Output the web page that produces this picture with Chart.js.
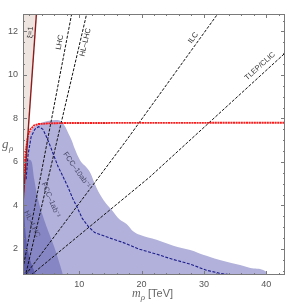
<!DOCTYPE html>
<html><head><meta charset="utf-8">
<script src="https://cdn.jsdelivr.net/npm/chart.js@4/dist/chart.umd.min.js"></script>
<style>html,body{margin:0;padding:0;background:#fff}canvas{display:block}</style>
</head><body>
<canvas id="c" width="288" height="302"></canvas>
<script>
// ---- data (m_rho in TeV, g_rho) ----
const xTicks = [10, 20, 30, 40];
const yTicks = [2, 4, 6, 8, 10, 12];

const xiM = [1.0, 3.15];
const xiG = [4.07, 12.8];

const redM = [1.0, 1.1, 1.25, 1.5, 1.8, 2.2, 2.8, 3.5, 5.0, 8.0, 43.0];
const redG = [4.5, 5.2, 5.9, 6.6, 7.2, 7.5, 7.68, 7.74, 7.77, 7.79, 7.8];

const lhcM = [1.0, 8.8];
const lhcG = [1.1, 12.8];
const hlM = [1.5, 11.2];
const hlG = [0.9, 12.8];
const ilcM = [1.4, 17.6, 32.2];
const ilcG = [0.8, 7.0, 12.8];
const tlepM = [2.3, 21.3, 43.0];
const tlepG = [0.8, 5.3, 11.0];

const fcc10M = [1.5, 1.8, 2.3, 2.9, 3.5, 4.2, 5.0, 5.8, 6.6, 7.2, 7.7, 8.2, 9.0, 9.7, 10.5, 11.5, 12.5, 14.9, 17.0, 19.7, 22.5, 25.0, 27.8, 30.4, 32.5, 34.5];
const fcc10G = [5.2, 6.3, 7.15, 7.5, 7.62, 7.5, 7.0, 6.4, 5.8, 5.45, 5.15, 4.85, 4.3, 3.9, 3.4, 3.02, 2.75, 2.5, 2.3, 1.98, 1.75, 1.52, 1.3, 1.02, 0.88, 0.8];

const lightM = [1.0, 1.3, 1.7, 2.2, 3.0, 4.0, 5.0, 6.3, 7.2, 7.8, 8.3, 8.8, 9.3, 10.1, 11.7, 12.8, 13.9, 15.2, 16.5, 17.6, 18.7, 19.7, 22.4, 25.1, 27.8, 30.4, 33.0, 35.8, 38.0, 40.0, 40.1];
const lightG = [4.5, 5.8, 6.8, 7.35, 7.65, 7.8, 7.88, 7.93, 7.85, 7.6, 7.3, 7.0, 6.6, 6.1, 5.55, 4.8, 4.25, 3.8, 3.35, 3.15, 2.8, 2.65, 2.42, 2.15, 1.95, 1.68, 1.45, 1.26, 1.1, 0.95, 0.8];

const midM = [1.0, 1.5, 2.0, 2.4, 2.8, 3.4, 4.2, 5.0, 6.0, 7.0, 7.4];
const midG = [5.0, 6.0, 6.1, 6.0, 5.2, 4.3, 3.5, 2.85, 2.1, 1.2, 0.8];

const darkM = [1.0, 1.15, 1.3, 1.5, 1.8, 2.3, 2.7, 3.1];
const darkG = [5.8, 4.2, 3.2, 2.5, 1.9, 1.35, 1.05, 0.8];

// labels: text, m, g, angle (deg)
const lblText = ['ξ=1', 'LHC', 'HL–LHC', 'ILC', 'TLEP/CLIC', 'FCC–10ab⁻¹', 'FCC–1ab⁻¹', 'HL–LHC'];
const lblM = [2.2, 6.9, 11.0, 28.3, 39.0, 9.6, 5.45, 2.45];
const lblG = [11.95, 11.5, 11.5, 11.7, 10.4, 5.63, 4.25, 3.14];
const lblA = [-86, -79, -77, -54, -42, 55, 67, 64];

const pts = (xs, ys) => xs.map((x, i) => ({x: x, y: ys[i]}));

function lineDs(xs, ys, color, width, dash) {
  return {data: pts(xs, ys), borderColor: color, borderWidth: width, borderDash: dash || [],
    pointRadius: 0, fill: false, tension: 0};
}
function areaDs(xs, ys, color, fillTo) {
  return {data: pts(xs, ys), borderColor: 'rgba(0,0,0,0)', borderWidth: 0, backgroundColor: color,
    pointRadius: 0, fill: fillTo, tension: 0.3, cubicInterpolationMode: 'monotone'};
}

const datasets = [
  lineDs(xiM, xiG, '#8b1c1c', 1.4),
  lineDs(redM, redG, '#ff1a1a', 1.9, [2, 0.6]),
  lineDs(fcc10M, fcc10G, '#1c1c8c', 1.1, [3, 1.5]),
  lineDs(lhcM, lhcG, '#111', 1, [3, 1.5]),
  lineDs(hlM, hlG, '#111', 1, [3, 1.5]),
  lineDs(ilcM, ilcG, '#111', 1, [3, 1.5]),
  lineDs(tlepM, tlepG, '#111', 1, [3, 1.5]),
  Object.assign(areaDs(xiM, xiG, '#efe5e0', 'end'), {tension: 0}),
  areaDs(darkM, darkG, '#5e5eab', 'start'),
  areaDs(midM, midG, '#8686c4', 'start'),
  areaDs(lightM, lightG, '#b1b1db', 'start')
];

const deco = {
  id: 'deco',
  afterDatasetsDraw(chart) {
    const ctx = chart.ctx, xs = chart.scales.x, ys = chart.scales.y, a = chart.chartArea;
    ctx.save();
    // labels
    ctx.font = '7.5px "Liberation Sans", Arial, sans-serif';
    ctx.textAlign = 'center'; ctx.textBaseline = 'middle';
    lblText.forEach((t, i) => {
      ctx.save();
      ctx.translate(xs.getPixelForValue(lblM[i]), ys.getPixelForValue(lblG[i]));
      ctx.rotate(lblA[i] * Math.PI / 180);
      ctx.fillStyle = i >= 5 ? '#4a4a6a' : '#333';
      ctx.fillText(t, 0, 0);
      ctx.restore();
    });
    // frame
    ctx.strokeStyle = '#7a7a7a'; ctx.lineWidth = 1;
    ctx.strokeRect(a.left + 0.5, a.top + 0.5, a.right - a.left - 1, a.bottom - a.top - 1);
    // ticks inward
    ctx.beginPath();
    for (let v = 2; v <= 42; v += 2) {
      const p = Math.round(xs.getPixelForValue(v)) + 0.5;
      const L = (v % 10 === 0) ? 4 : 2;
      ctx.moveTo(p, a.bottom); ctx.lineTo(p, a.bottom - L);
      ctx.moveTo(p, a.top); ctx.lineTo(p, a.top + L);
    }
    for (let v = 1; v <= 12.5; v += 0.5) {
      const p = Math.round(ys.getPixelForValue(v)) + 0.5;
      const L = (v % 2 === 0) ? 4 : 2;
      ctx.moveTo(a.left, p); ctx.lineTo(a.left + L, p);
      ctx.moveTo(a.right, p); ctx.lineTo(a.right - L, p);
    }
    ctx.stroke();
    // axis titles
    ctx.fillStyle = '#666';
    ctx.textAlign = 'left'; ctx.textBaseline = 'alphabetic';
    ctx.font = 'italic 13px "Liberation Serif", serif';
    ctx.fillText('g', 2, 148);
    ctx.font = 'italic 9px "Liberation Serif", serif';
    ctx.fillText('ρ', 9, 151);
    const xt = 132, yt = 297;
    ctx.font = 'italic 12px "Liberation Serif", serif';
    ctx.fillText('m', xt, yt);
    let w = ctx.measureText('m').width;
    ctx.font = 'italic 9px "Liberation Serif", serif';
    ctx.fillText('ρ', xt + w, yt + 3);
    w += ctx.measureText('ρ').width;
    ctx.font = '11px "Liberation Sans", Arial, sans-serif';
    ctx.fillText(' [TeV]', xt + w, yt);
    ctx.restore();
  }
};

new Chart(document.getElementById('c'), {
  type: 'line',
  data: {datasets: datasets},
  options: {
    responsive: false, animation: false, devicePixelRatio: 1,
    layout: {padding: {left: 0, right: 3, top: 14, bottom: 0}},
    plugins: {legend: {display: false}, tooltip: {enabled: false}, filler: {propagate: false}},
    scales: {
      x: {type: 'linear', min: 1, max: 43,
        afterBuildTicks: s => { s.ticks = xTicks.map(v => ({value: v})); },
        afterFit: s => { s.height = 27; },
        grid: {display: false, drawTicks: false}, border: {display: false},
        ticks: {color: '#555', padding: 4, font: {size: 9, family: '"Liberation Sans", Arial, sans-serif'}, maxRotation: 0}},
      y: {type: 'linear', min: 0.8, max: 12.8,
        afterBuildTicks: s => { s.ticks = yTicks.map(v => ({value: v})); },
        afterFit: s => { s.width = 23; },
        grid: {display: false, drawTicks: false}, border: {display: false},
        ticks: {color: '#555', padding: 5, font: {size: 9, family: '"Liberation Sans", Arial, sans-serif'}}}
    }
  },
  plugins: [deco]
});
</script>
</body></html>
